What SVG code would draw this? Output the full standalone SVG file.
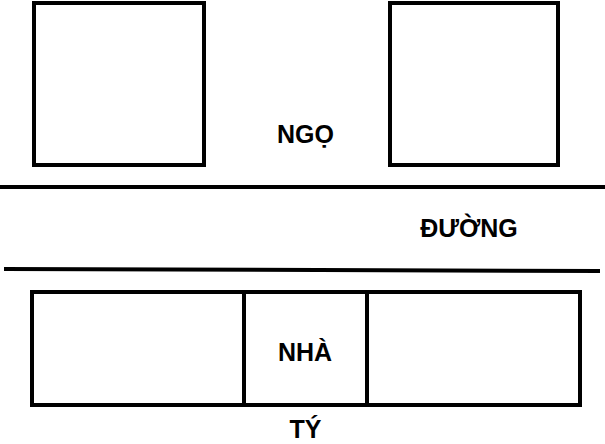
<svg xmlns="http://www.w3.org/2000/svg" width="605" height="444" viewBox="0 0 605 444">
<style>
.box{fill:#fff;stroke:#000;stroke-width:4}
.ln{stroke:#000;stroke-width:4;fill:none}
.lbl{font-family:"Liberation Sans",Arial,sans-serif;font-weight:bold;font-size:25px;fill:#000;text-anchor:middle}
</style>
<rect width="605" height="444" fill="#fff"/>
<g id="house-left"><rect class="box" x="34" y="3" width="170" height="162"/></g>
<g id="house-right"><rect class="box" x="390" y="3" width="168" height="162"/></g>
<g id="road">
<line class="ln" x1="0" y1="187" x2="605" y2="187"/>
<line class="ln" x1="4" y1="269" x2="600" y2="271"/>
</g>
<g id="row">
<rect class="box" x="32" y="292" width="548" height="113"/>
<line class="ln" x1="244" y1="292" x2="244" y2="405"/>
<line class="ln" x1="367" y1="292" x2="367" y2="405"/>
</g>
<g id="labels">
<text class="lbl" x="305.5" y="143">NGỌ</text>
<text class="lbl" x="469" y="237">ĐƯỜNG</text>
<text class="lbl" x="305" y="361">NHÀ</text>
<text class="lbl" x="305.5" y="438">TÝ</text>
</g>
</svg>
